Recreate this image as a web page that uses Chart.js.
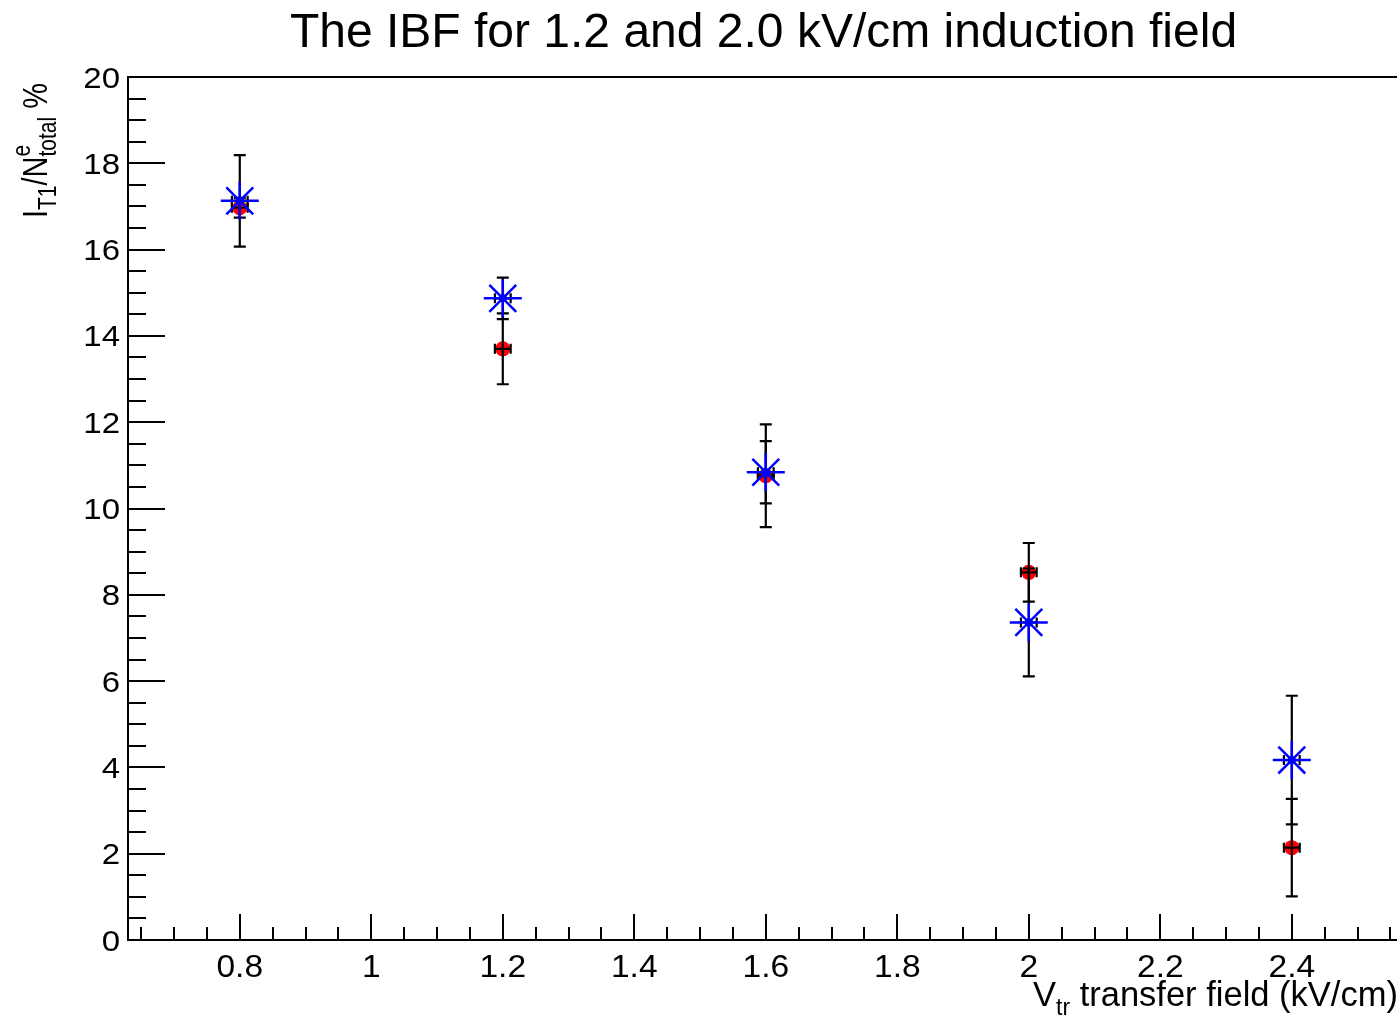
<!DOCTYPE html>
<html>
<head>
<meta charset="utf-8">
<script src="https://cdn.jsdelivr.net/npm/chart.js@4.4.0/dist/chart.umd.min.js"></script>
<style>
html,body{margin:0;padding:0;background:#fff;overflow:hidden}
canvas{display:block}
</style>
</head>
<body>
<canvas id="c" width="1397" height="1018" style="width:1397px;height:1018px"></canvas>
<script>
// transfer field values (kV/cm)
const xVals  = [0.8, 1.2, 1.6, 2.0, 2.4];
// red circles: 1.2 kV/cm induction field
const redY   = [16.97, 13.70, 10.76, 8.52, 2.14];
const redErr = [0.23, 0.82, 1.19, 0.68, 1.13];
// blue stars: 2.0 kV/cm induction field
const blueY   = [17.13, 14.87, 10.84, 7.36, 4.17];
const blueErr = [1.06, 0.48, 0.72, 1.25, 1.49];
const xErr    = [0.012, 0.012, 0.012, 0.012, 0.012];

const xTicks = [0.8, 1, 1.2, 1.4, 1.6, 1.8, 2, 2.2, 2.4];
const yTicks = [0, 2, 4, 6, 8, 10, 12, 14, 16, 18, 20];
const xTickLabels = ['0.8','1','1.2','1.4','1.6','1.8','2','2.2','2.4'];
const yTickLabels = ['0','2','4','6','8','10','12','14','16','18','20'];

const TITLE = 'The IBF for 1.2 and 2.0 kV/cm induction field';
const FONT = "'Liberation Sans', Arial, Helvetica, sans-serif";

const pts = ys => xVals.map((x,i)=>({x:x,y:ys[i]}));

function txt(ctx,s,x,y,size,align,sx){
  ctx.save(); ctx.translate(x,y); ctx.scale(sx||1,1);
  ctx.font=size+'px '+FONT; ctx.textAlign=align; ctx.textBaseline='alphabetic';
  ctx.fillStyle='#000'; ctx.fillText(s,0,0); ctx.restore();
}

function drawErrors(chart, ys, errs){
  const ctx=chart.ctx, xs=chart.scales.x, yv=chart.scales.y;
  ctx.save(); ctx.strokeStyle='#000'; ctx.lineWidth=2.2;
  xVals.forEach((x,i)=>{
    const px=xs.getPixelForValue(x), py=yv.getPixelForValue(ys[i]);
    const top=yv.getPixelForValue(ys[i]+errs[i]), bot=yv.getPixelForValue(ys[i]-errs[i]);
    const l=xs.getPixelForValue(x-xErr[i]), r=xs.getPixelForValue(x+xErr[i]);
    ctx.beginPath();
    ctx.moveTo(px,top); ctx.lineTo(px,bot);
    ctx.moveTo(px-6,top); ctx.lineTo(px+6,top);
    ctx.moveTo(px-6,bot); ctx.lineTo(px+6,bot);
    ctx.moveTo(l,py); ctx.lineTo(r,py);
    ctx.moveTo(l,py-5); ctx.lineTo(l,py+5);
    ctx.moveTo(r,py-5); ctx.lineTo(r,py+5);
    ctx.stroke();
  });
  ctx.restore();
}

const rootFrame = {
  id:'rootFrame',
  beforeDatasetsDraw(chart){
    const ctx=chart.ctx, a=chart.chartArea, xs=chart.scales.x, yv=chart.scales.y;
    ctx.save(); ctx.strokeStyle='#000'; ctx.lineWidth=2;
    ctx.beginPath();
    ctx.moveTo(a.left,a.top); ctx.lineTo(a.right,a.top);
    // x ticks, pointing inward
    for(let v=0.65; v<2.56; v+=0.05){
      const px=Math.round(xs.getPixelForValue(v));
      const major=xTicks.some(t=>Math.abs(t-v)<1e-6);
      ctx.moveTo(px,a.bottom); ctx.lineTo(px,a.bottom-(major?26:13));
    }
    for(let v=0; v<=20.001; v+=0.5){
      const py=Math.round(yv.getPixelForValue(v));
      const major=yTicks.some(t=>Math.abs(t-v)<1e-6);
      ctx.moveTo(a.left,py); ctx.lineTo(a.left+(major?37:18),py);
    }
    ctx.stroke(); ctx.restore();
  },
  afterDatasetDraw(chart,args){
    if(args.index===0){ drawErrors(chart, redY, redErr); drawErrors(chart, blueY, blueErr); }
  },
  afterDraw(chart){
    const ctx=chart.ctx, xs=chart.scales.x, yv=chart.scales.y;
    // tick labels
    xTicks.forEach((v,i)=>txt(ctx,xTickLabels[i],xs.getPixelForValue(v),977,30.5,'center',1.1));
    yTicks.forEach((v,i)=>txt(ctx,yTickLabels[i],120,yv.getPixelForValue(v)+10.5,30,'right',1.1));
    // title
    txt(ctx,TITLE,763.5,47,48,'center');
    // x axis title
    let x=1033;
    [['V',34.5,0],['tr',23,9],[' transfer field (kV/cm)',34.5,0]].forEach(p=>{
      txt(ctx,p[0],x,1006+p[2],p[1],'left');
      ctx.font=p[1]+'px '+FONT;
      x+=ctx.measureText(p[0]).width;
    });
    // y axis title (rotated)
    const SY=1.22;
    const parts=[['I',29,0,true],['T1',21,7,true],['/N',29,0,true],['e',21,-14,false],['total',21,7,true],[' %',29,0,true]];
    let tot=0;
    parts.forEach(p=>{ ctx.font=p[1]+'px '+FONT; if(p[3]) tot+=ctx.measureText(p[0]).width; });
    ctx.save();
    ctx.translate(47,83+tot); ctx.scale(SY,1); ctx.rotate(-Math.PI/2);
    ctx.fillStyle='#000'; ctx.textAlign='left';
    let u=0;
    parts.forEach(p=>{
      ctx.font=p[1]+'px '+FONT;
      ctx.fillText(p[0],u,p[2]);
      if(p[3]) u+=ctx.measureText(p[0]).width;
    });
    ctx.restore();
  }
};

new Chart(document.getElementById('c'),{
  type:'scatter',
  data:{datasets:[
    {label:'1.2 kV/cm', data:pts(redY), pointStyle:'circle', pointRadius:7.5,
     backgroundColor:'#ff0000', borderColor:'#ff0000', borderWidth:0, order:3},
    {label:'2.0 kV/cm', data:pts(blueY), pointStyle:'star', pointRadius:19,
     borderColor:'#0000ff', backgroundColor:'#0000ff', borderWidth:2.5, order:2},
    {label:'2.0 kV/cm centre', data:pts(blueY), pointStyle:'circle', pointRadius:4,
     backgroundColor:'#0000ff', borderWidth:0, order:1}
  ]},
  options:{
    responsive:false, animation:false, devicePixelRatio:1,
    layout:{autoPadding:false, padding:{top:77,left:0,right:0,bottom:0}},
    plugins:{legend:{display:false}, tooltip:{enabled:false}, title:{display:false}},
    scales:{
      x:{type:'linear', min:0.63, max:2.56,
         grid:{display:false}, border:{display:true,color:'#000',width:2},
         ticks:{display:false},
         afterBuildTicks:s=>{ s.ticks=xTicks.map(v=>({value:v})); },
         afterFit:s=>{ s.height=78; }},
      y:{type:'linear', min:0, max:20,
         grid:{display:false}, border:{display:true,color:'#000',width:2},
         ticks:{display:false},
         afterBuildTicks:s=>{ s.ticks=yTicks.map(v=>({value:v})); },
         afterFit:s=>{ s.width=128; }}
    }
  },
  plugins:[rootFrame]
});
</script>
</body>
</html>
